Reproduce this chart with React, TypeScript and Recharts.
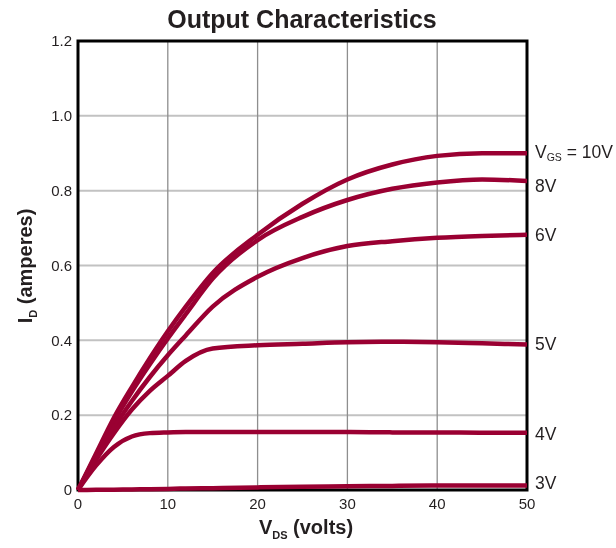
import {
  LineChart,
  Line,
  XAxis,
  YAxis,
  CartesianGrid,
  ReferenceArea,
} from "recharts";

// drain-source voltage (volts)
const vds = [0, 2, 4, 6, 8, 10, 12, 15, 20, 25, 30, 35, 40, 45, 50];

// drain current (amperes) for each gate voltage
const id10 = [0, 0.097, 0.193, 0.275, 0.352, 0.424, 0.49, 0.58, 0.682, 0.765, 0.83, 0.87, 0.893, 0.9, 0.9];
const id8 = [0, 0.092, 0.183, 0.263, 0.336, 0.405, 0.47, 0.565, 0.668, 0.73, 0.775, 0.805, 0.822, 0.83, 0.826];
const id6 = [0, 0.086, 0.167, 0.238, 0.302, 0.36, 0.413, 0.49, 0.57, 0.62, 0.652, 0.665, 0.674, 0.679, 0.682];
const id5 = [0, 0.08, 0.152, 0.215, 0.265, 0.305, 0.345, 0.378, 0.387, 0.391, 0.395, 0.396, 0.395, 0.392, 0.389];
const id4 = [0, 0.065, 0.115, 0.143, 0.152, 0.154, 0.155, 0.155, 0.155, 0.155, 0.155, 0.154, 0.154, 0.153, 0.153];
const id3 = [0, 0.0005, 0.001, 0.0015, 0.002, 0.003, 0.004, 0.005, 0.007, 0.009, 0.01, 0.011, 0.012, 0.012, 0.012];

const xTicks = [0, 10, 20, 30, 40, 50];
const yTicks = [0, 0.2, 0.4, 0.6, 0.8, 1.0, 1.2];

const data = vds.map((v, i) => ({
  vds: v,
  g10: id10[i],
  g8: id8[i],
  g6: id6[i],
  g5: id5[i],
  g4: id4[i],
  g3: id3[i],
}));

const series = [
  { key: "g10", label: "10V", dy: -1, first: true },
  { key: "g8", label: "8V", dy: 5 },
  { key: "g6", label: "6V", dy: 0 },
  { key: "g5", label: "5V", dy: 0 },
  { key: "g4", label: "4V", dy: 1 },
  { key: "g3", label: "3V", dy: -3 },
];

const LINE = "#9a0032";
const TEXT = "#231f20";
const FONT = "'Liberation Sans', Arial, sans-serif";
const last = vds.length - 1;

function endLabel(s: (typeof series)[number]) {
  return (props: any) => {
    if (props.index !== last) return null;
    const x = props.x + 8;
    const y = props.y + s.dy;
    return (
      <text x={x} y={y} dominantBaseline="central" fontSize={17.5} fill={TEXT} fontFamily={FONT}>
        {s.first ? (
          <>
            V<tspan fontSize={10.5} dy={5}>GS</tspan>
            <tspan dy={-5}> = {s.label}</tspan>
          </>
        ) : (
          s.label
        )}
      </text>
    );
  };
}

export default function App() {
  return (
    <div style={{ position: "fixed", left: 0, top: 0, width: 616, height: 548 }}>
      <LineChart
        width={616}
        height={548}
        data={data}
        margin={{ top: 41, right: 89, left: 0, bottom: 18 }}
        style={{ fontFamily: FONT }}
      >
        <CartesianGrid vertical={false} stroke="#c2c2c2" strokeWidth={2} />
        <CartesianGrid horizontal={false} stroke="#8e8e8e" strokeWidth={1.3} />
        <XAxis
          dataKey="vds"
          type="number"
          domain={[0, 50]}
          ticks={xTicks}
          axisLine={false}
          tickLine={false}
          tickSize={0}
          tickMargin={8}
          height={40}
          tick={{ fill: TEXT, fontSize: 15 }}
        />
        <YAxis
          type="number"
          domain={[0, 1.2]}
          ticks={yTicks}
          axisLine={false}
          tickLine={false}
          tickSize={0}
          tickMargin={6}
          width={78}
          tick={{ fill: TEXT, fontSize: 15 }}
          tickFormatter={(v: number) => (v === 0 ? "0" : v.toFixed(1))}
        />
        {series.map((s) => (
          <Line
            key={s.key}
            dataKey={s.key}
            type="monotone"
            stroke={LINE}
            strokeWidth={4.5}
            dot={false}
            isAnimationActive={false}
            label={endLabel(s)}
          />
        ))}
        <ReferenceArea x1={0} x2={50} y1={0} y2={1.2} fill="none" stroke="#000" strokeWidth={3} fillOpacity={0} />
        <text x={302} y={28} textAnchor="middle" fontSize={25} fontWeight="bold" fill={TEXT} fontFamily={FONT}>
          Output Characteristics
        </text>
        <text x={306} y={534} textAnchor="middle" fontSize={20} fontWeight="bold" fill={TEXT} fontFamily={FONT}>
          V<tspan fontSize={11} dy={5}>DS</tspan>
          <tspan dy={-5}> (volts)</tspan>
        </text>
        <text
          x={0}
          y={0}
          transform="translate(32, 266) rotate(-90)"
          textAnchor="middle"
          fontSize={20}
          fontWeight="bold"
          fill={TEXT}
          fontFamily={FONT}
        >
          I<tspan fontSize={11} dy={5}>D</tspan>
          <tspan dy={-5}> (amperes)</tspan>
        </text>
      </LineChart>
    </div>
  );
}
